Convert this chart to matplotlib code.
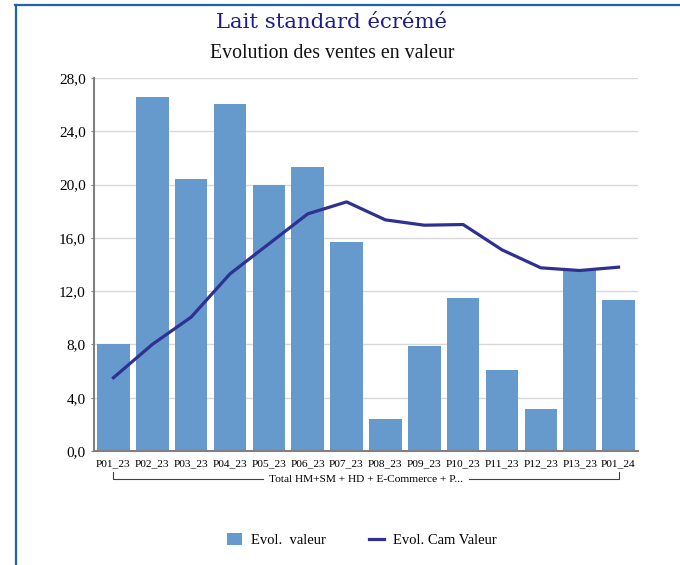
import matplotlib.pyplot as plt
from matplotlib.lines import Line2D
from matplotlib.patches import Patch
import numpy as np

# Lait standard écrémé - évolution des ventes en valeur

periods = ['P01_23', 'P02_23', 'P03_23', 'P04_23', 'P05_23', 'P06_23', 'P07_23',
           'P08_23', 'P09_23', 'P10_23', 'P11_23', 'P12_23', 'P13_23', 'P01_24']
evol_valeur = [8.0, 26.6, 20.4, 26.05, 20.0, 21.3, 15.7, 2.4, 7.9, 11.5, 6.1, 3.15, 13.6, 11.3]
evol_cam_valeur = [5.5, 8.0, 10.05, 13.3, 15.55, 17.8, 18.7, 17.35, 16.95, 17.0, 15.1, 13.75, 13.55, 13.8]
group_label = 'Total HM+SM + HD + E-Commerce + P...'
y_ticks = [0, 4, 8, 12, 16, 20, 24, 28]

bar_color = '#6699cc'
line_color = '#2e3192'
serif = ['Liberation Serif', 'DejaVu Serif']

plt.rcParams['font.family'] = serif

fig = plt.figure(figsize=(6.8, 5.65), dpi=100)
ax = fig.add_axes([94 / 680, 1 - 451 / 565, 544 / 680, 373 / 565])

x = np.arange(len(periods))
ax.bar(x, evol_valeur, width=0.84, color=bar_color, zorder=2, label='Evol.  valeur')
ax.plot(x, evol_cam_valeur, color=line_color, linewidth=2.3, zorder=3, label='Evol. Cam Valeur')

ax.set_xlim(-0.5, len(periods) - 0.5)
ax.set_ylim(0, 28)
ax.set_yticks(y_ticks)
ax.set_yticklabels([f'{v:.1f}'.replace('.', ',') for v in y_ticks], fontsize=11)
ax.set_xticks(x)
ax.set_xticklabels(periods, fontsize=8.2)
ax.tick_params(axis='x', length=0, pad=6)
ax.tick_params(axis='y', length=2, width=0.8, color='#808080', pad=4)
ax.grid(axis='y', color='#d9d9d9', linewidth=1, zorder=0)
for s in ['top', 'right']:
    ax.spines[s].set_visible(False)
for s in ['left', 'bottom']:
    ax.spines[s].set_color('#808080')
    ax.spines[s].set_linewidth(1.5)

# group bracket under the category labels
ty = -28 / 373
tk = 7 / 373
tr = ax.get_xaxis_transform()
ax.plot([0, 0, 3.85], [ty + tk, ty, ty], transform=tr, color='#404040', lw=0.8, clip_on=False)
ax.plot([9.15, 13, 13], [ty, ty, ty + tk], transform=tr, color='#404040', lw=0.8, clip_on=False)
ax.text(6.5, ty - 1 / 373, group_label, transform=tr, ha='center', va='center', fontsize=8.2)

fig.text(332 / 680, 1 - 23 / 565, 'Lait standard écrémé', ha='center', va='center',
         fontsize=15.3, color='#1c1c8c', family='DejaVu Serif')
fig.text(332 / 680, 1 - 53 / 565, 'Evolution des ventes en valeur', ha='center', va='center',
         fontsize=14.3, color='#111111')

handles = [Patch(facecolor=bar_color, edgecolor='none'),
           Line2D([0], [0], color=line_color, linewidth=2.3)]
fig.legend(handles, ['Evol.  valeur', 'Evol. Cam Valeur'], loc='center',
           bbox_to_anchor=(362 / 680, 1 - 540 / 565), ncol=2, frameon=False,
           fontsize=10.5, handlelength=1.0, handleheight=0.9, handletextpad=0.6,
           columnspacing=3.0)

# blue frame (top and left edges visible in the crop)
fig.add_artist(Line2D([15 / 680, 1], [1 - 5 / 565, 1 - 5 / 565], transform=fig.transFigure,
                      color='#1f63b6', linewidth=1.6))
fig.add_artist(Line2D([15.5 / 680, 15.5 / 680], [0, 1 - 5 / 565], transform=fig.transFigure,
                      color='#1f63b6', linewidth=1.6))

fig.savefig('out.png', dpi=100)
